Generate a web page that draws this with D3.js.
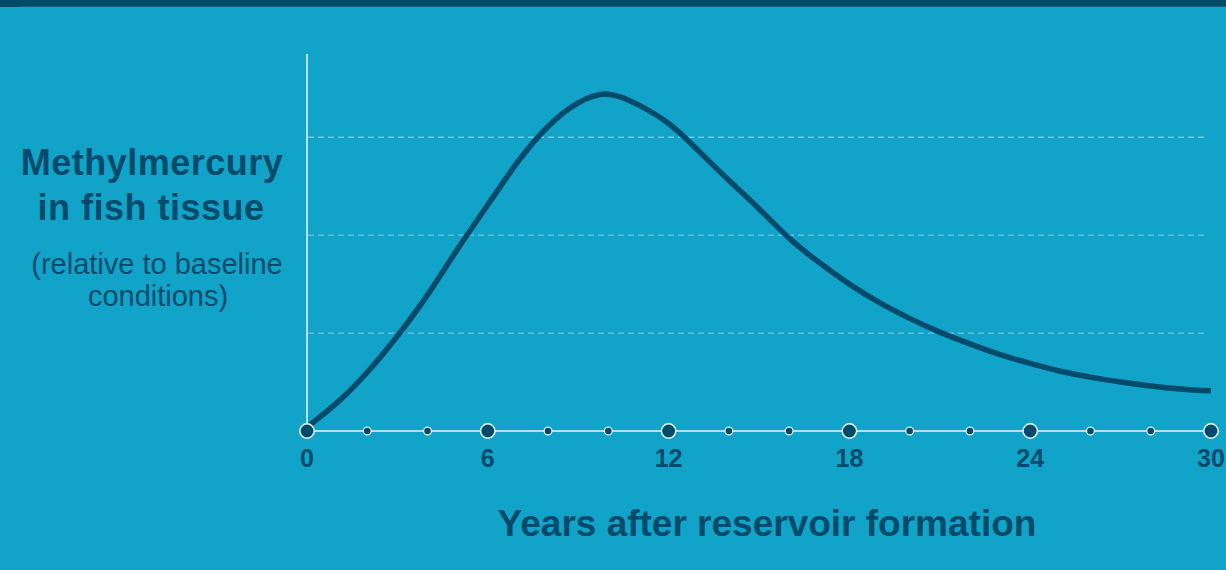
<!DOCTYPE html>
<html>
<head>
<meta charset="utf-8">
<script src="https://cdn.jsdelivr.net/npm/d3@7"></script>
<style>
  html, body { margin: 0; padding: 0; background: #11a3c8; }
  svg { display: block; }
  text { font-family: "Liberation Sans", Arial, Helvetica, sans-serif; }
</style>
</head>
<body>
<svg id="chart" width="1226" height="570"></svg>
<script>
// Years after the reservoir is flooded
const years = [0, 1, 2, 3, 4, 5, 6, 7, 8, 9, 10, 11, 12, 13, 14, 15,
               16, 17, 18, 19, 20, 21, 22, 23, 24, 25, 26, 27, 28, 29, 30];
// Methylmercury in fish tissue, relative to baseline (gridline units)
const mercury = [0.04, 0.29, 0.6, 0.97, 1.39, 1.86, 2.31, 2.75, 3.11, 3.35, 3.44, 3.33, 3.14, 2.86, 2.56, 2.27,
                 1.97, 1.72, 1.5, 1.31, 1.15, 1.01, 0.89, 0.78, 0.69, 0.61, 0.55, 0.5, 0.46, 0.43, 0.41];
// Axis markers: labelled (major) years and the small in-between dots
const majorTicks = [0, 6, 12, 18, 24, 30];
const minorTicks = [2, 4, 8, 10, 14, 16, 20, 22, 26, 28];
const gridValues = [1, 2, 3];

const dark = "#004b6c";
const svg = d3.select("#chart");

// top banner strip
svg.append("rect").attr("x", 0).attr("y", 0).attr("width", 1226).attr("height", 7).attr("fill", dark);
svg.append("rect").attr("x", 20).attr("y", 6).attr("width", 1206).attr("height", 1).attr("fill", "#0d5f80");

const x = d3.scaleLinear().domain([0, 30]).range([307, 1211]);
const y = d3.scaleLinear().domain([0, 3.85]).range([431, 54]);

// dashed horizontal gridlines
svg.append("g").selectAll("line").data(gridValues).join("line")
  .attr("x1", x(0) + 1).attr("x2", 1205)
  .attr("y1", d => y(d)).attr("y2", d => y(d))
  .attr("stroke", "#72c6df").attr("stroke-width", 1.3)
  .attr("stroke-dasharray", "6,4");

// vertical axis line
svg.append("line")
  .attr("x1", x(0)).attr("x2", x(0))
  .attr("y1", y(3.85)).attr("y2", y(0))
  .attr("stroke", "#e8f6fb").attr("stroke-width", 1.5);

// curve
const line = d3.line()
  .x((d, i) => x(years[i]))
  .y(d => y(d))
  .curve(d3.curveNatural);

svg.append("path")
  .datum(mercury)
  .attr("d", line)
  .attr("fill", "none")
  .attr("stroke", dark)
  .attr("stroke-width", 5.5)
  .attr("stroke-linecap", "butt");

// horizontal axis line
svg.append("line")
  .attr("x1", x(0)).attr("x2", x(30))
  .attr("y1", y(0)).attr("y2", y(0))
  .attr("stroke", "#e8f6fb").attr("stroke-width", 1.5);

// axis dots
svg.append("g").selectAll("circle").data(minorTicks).join("circle")
  .attr("cx", d => x(d)).attr("cy", y(0)).attr("r", 3.9)
  .attr("fill", dark).attr("stroke", "#f0f9fc").attr("stroke-width", 1.2);

svg.append("g").selectAll("circle").data(majorTicks).join("circle")
  .attr("cx", d => x(d)).attr("cy", y(0)).attr("r", 7.2)
  .attr("fill", dark).attr("stroke", "#f0f9fc").attr("stroke-width", 1.5);

// tick labels
svg.append("g").selectAll("text").data(majorTicks).join("text")
  .attr("x", d => x(d)).attr("y", 467)
  .attr("text-anchor", "middle")
  .attr("font-size", 25).attr("font-weight", "bold")
  .attr("fill", dark)
  .text(d => d);

// axis titles
svg.append("text")
  .attr("x", 767).attr("y", 536)
  .attr("text-anchor", "middle")
  .attr("font-size", 37).attr("font-weight", "bold")
  .attr("fill", dark)
  .text("Years after reservoir formation");

const yTitle = svg.append("g").attr("fill", dark).attr("text-anchor", "middle");
yTitle.append("text").attr("x", 152).attr("y", 175)
  .attr("font-size", 36).attr("font-weight", "bold").attr("letter-spacing", 0.5).text("Methylmercury");
yTitle.append("text").attr("x", 151).attr("y", 220)
  .attr("font-size", 36).attr("font-weight", "bold").attr("letter-spacing", 0.5).text("in fish tissue");
yTitle.append("text").attr("x", 157).attr("y", 274)
  .attr("font-size", 29).text("(relative to baseline");
yTitle.append("text").attr("x", 158).attr("y", 306)
  .attr("font-size", 29).text("conditions)");
</script>
</body>
</html>
